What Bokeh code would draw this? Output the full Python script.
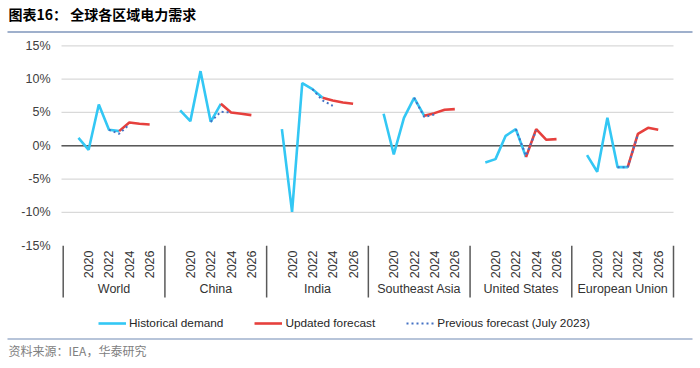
import math
from bokeh.plotting import figure
from bokeh.models import Range1d, Legend, LegendItem
from bokeh.core.properties import value
from bokeh.embed import file_html
from bokeh.resources import INLINE

# ---------------- data ----------------
regions = ["World", "China", "India", "Southeast Asia", "United States", "European Union"]
hist_years = [2019, 2020, 2021, 2022, 2023]
upd_years = [2023, 2024, 2025, 2026]
prev_years = [2022, 2023, 2024]
year_tick_labels = ["2020", "2022", "2024", "2026"]
y_ticks = [-15, -10, -5, 0, 5, 10, 15]
y_tick_labels = ["-15%", "-10%", "-5%", "0%", "5%", "10%", "15%"]
title_text = "图表16：  全球各区域电力需求"
source_text = "资料来源：IEA，华泰研究"

hist_world = [1.2, -0.6, 6.2, 2.4, 2.2]
hist_china = [5.3, 3.7, 11.2, 3.6, 6.3]
hist_india = [2.5, -9.9, 9.4, 8.5, 7.2]
hist_sea = [4.8, -1.3, 4.2, 7.2, 4.5]
hist_us = [-2.5, -2.0, 1.5, 2.5, -1.7]
hist_eu = [-1.4, -3.9, 4.2, -3.2, -3.2]

upd_world = [2.2, 3.5, 3.3, 3.2]
upd_china = [6.3, 5.0, 4.8, 4.6]
upd_india = [7.2, 6.8, 6.5, 6.3]
upd_sea = [4.5, 4.9, 5.4, 5.5]
upd_us = [-1.7, 2.5, 0.9, 1.0]
upd_eu = [-3.2, 1.8, 2.7, 2.4]

prev_world = [2.4, 1.8, 3.2]
prev_china = [3.6, 5.1, 5.0]
prev_india = [8.5, 6.8, 6.0]
prev_sea = [7.2, 4.3, 4.7]
prev_us = [2.5, -1.5, 2.3]
prev_eu = [-3.2, -3.2, 1.7]

historical = [hist_world, hist_china, hist_india, hist_sea, hist_us, hist_eu]
updated = [upd_world, upd_china, upd_india, upd_sea, upd_us, upd_eu]
previous = [prev_world, prev_china, prev_india, prev_sea, prev_us, prev_eu]

# ---------------- layout (pixels -> data) ----------------
W, H = 700, 368
FIRST_SLOT_YEAR = 2018
SLOTS = 10
N_SLOTS = SLOTS * len(regions)
PX_X0, PX_X1 = 62.7, 673.0      # pixel x of the first / last category boundary
PX_YTOP, PX_YBOT = 45.3, 245.3  # pixel y of 15% / -15%
SX = (PX_X1 - PX_X0) / N_SLOTS
SY = (PX_YBOT - PX_YTOP) / 30.0
X_START = -PX_X0 / SX
Y_TOP = 15 + PX_YTOP / SY


def dx(px):
    return X_START + px / SX


def dy(py):
    return Y_TOP - py / SY


def xpos(g, year):
    return g * SLOTS + (year - FIRST_SLOT_YEAR) + 0.5


def series_xy(years, groups):
    xs, ys = [], []
    for g, vals in enumerate(groups):
        if g:
            xs.append(float("nan"))
            ys.append(float("nan"))
        xs.extend(xpos(g, yr) for yr in years)
        ys.extend(vals)
    return xs, ys


FONT = "Liberation Sans"
CJK = "Noto Sans CJK SC"

p = figure(width=W, height=H, output_backend="svg", toolbar_location=None,
           x_axis_location=None, y_axis_location=None, min_border=0,
           x_range=Range1d(X_START, X_START + W / SX),
           y_range=Range1d(Y_TOP - H / SY, Y_TOP))
p.outline_line_color = None
p.background_fill_color = "white"
p.border_fill_color = "white"
p.xgrid.visible = False
p.ygrid.visible = False

# gridlines, zero line, y tick labels
grid_ticks = [t for t in y_ticks if -15 < t]
p.segment(x0=[dx(61)] * len(grid_ticks), y0=grid_ticks, x1=[N_SLOTS] * len(grid_ticks),
          y1=grid_ticks, line_color="#d9d9d9", line_width=1.2)
p.segment(x0=[dx(61)], y0=[0], x1=[N_SLOTS], y1=[0], line_color="#595959", line_width=1.6)
p.text(x=[dx(50)] * len(y_ticks), y=y_ticks, text=y_tick_labels, text_align="right",
       text_baseline="middle", text_font=value(FONT), text_font_size="12.5px",
       text_color="#404040")

# category separators and labels
bounds = [g * SLOTS for g in range(len(regions) + 1)]
p.segment(x0=bounds, y0=[-15] * len(bounds), x1=bounds, y1=[dy(297)] * len(bounds),
          line_color="#595959", line_width=1.5)

lx, lt = [], []
for g in range(len(regions)):
    for lab in year_tick_labels:
        lx.append(xpos(g, int(lab)))
        lt.append(lab)
p.text(x=lx, y=[dy(250)] * len(lx), text=lt, angle=math.pi / 2, text_align="right",
       text_baseline="middle", text_font=value(FONT), text_font_size="12.5px",
       text_color="#333333")
p.text(x=[g * SLOTS + SLOTS / 2 for g in range(len(regions))], y=[dy(288.5)] * len(regions),
       text=regions, text_align="center", text_baseline="middle", text_font=value(FONT),
       text_font_size="12.5px", text_color="#333333")

# series
hx, hy = series_xy(hist_years, historical)
ux, uy = series_xy(upd_years, updated)
px_, py_ = series_xy(prev_years, previous)
r_hist = p.line(hx, hy, line_color="#33c7f4", line_width=2.6)
r_upd = p.line(ux, uy, line_color="#e6403d", line_width=2.6)
r_prev = p.line(px_, py_, line_color="#4472c4", line_width=2, line_dash="2 3")

legend = Legend(items=[LegendItem(label="Historical demand", renderers=[r_hist]),
                       LegendItem(label="Updated forecast", renderers=[r_upd]),
                       LegendItem(label="Previous forecast (July 2023)", renderers=[r_prev])],
                orientation="horizontal", location=(98, 35), padding=0, margin=0,
                spacing=31, glyph_width=28, glyph_height=20, label_standoff=3,
                label_text_font=FONT, label_text_font_size="11.8px",
                label_text_color="#262626", background_fill_alpha=0,
                border_line_color=None)
p.add_layout(legend)

# title, source, rules
p.text(x=[dx(8)], y=[dy(13.5)], text=[title_text], text_baseline="middle",
       text_font=value(CJK), text_font_style="bold", text_font_size="14px",
       text_color="#000000")
p.segment(x0=[dx(7)], y0=[dy(31.5)], x1=[dx(692)], y1=[dy(31.5)],
          line_color="#9fb0cc", line_width=2)
p.segment(x0=[dx(7)], y0=[dy(338.5)], x1=[dx(692)], y1=[dy(338.5)],
          line_color="#9fb0cc", line_width=1.3)
p.text(x=[dx(8)], y=[dy(350)], text=[source_text], text_baseline="middle",
       text_font=value(CJK), text_font_size="12px", text_color="#808080")

open("out.html", "w").write(file_html(p, INLINE))
